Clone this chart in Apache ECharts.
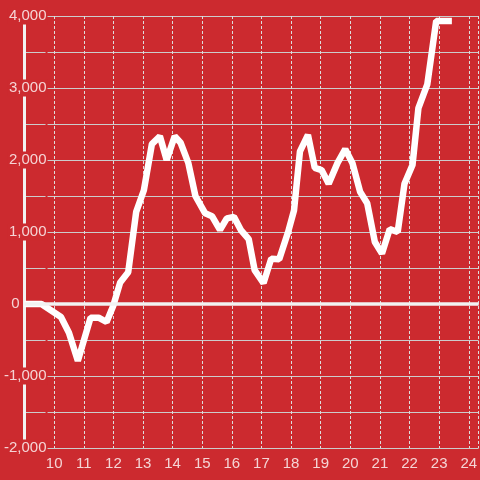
<!DOCTYPE html>
<html>
<head>
<meta charset="utf-8">
<script src="https://cdn.jsdelivr.net/npm/echarts@6/dist/echarts.min.js"></script>
<style>
  html, body { margin: 0; padding: 0; background: #cc2a2f; }
  #chart { width: 480px; height: 480px; }
</style>
</head>
<body>
<div id="chart"></div>
<script>
// x positions (hours) and values
const xValues = [9.0, 9.57, 10.23, 10.5, 10.8, 11.23, 11.5, 11.77, 12.0, 12.23, 12.5, 12.77, 13.03, 13.3, 13.57, 13.8, 14.07, 14.27, 14.53, 14.77,
  15.1, 15.33, 15.6, 15.83, 16.07, 16.3, 16.57, 16.77, 17.07, 17.33, 17.6, 17.9, 18.1, 18.3, 18.57, 18.8, 19.03, 19.27, 19.57, 19.83,
  20.07, 20.33, 20.57, 20.83, 21.07, 21.33, 21.6, 21.83, 22.1, 22.3, 22.6, 22.9, 23.43];
const yValues = [0, 0, -180, -400, -790, -190, -190, -250, -20, 300, 440, 1280, 1580, 2220, 2330, 2000, 2330, 2240, 1960, 1500,
  1260, 1220, 1030, 1190, 1210, 1030, 900, 470, 290, 630, 620, 1000, 1300, 2120, 2350, 1890, 1860, 1670, 1960, 2150,
  1960, 1560, 1400, 860, 700, 1040, 1000, 1670, 1930, 2720, 3050, 3930, 3930];
const yMin = -2000;
const yMax = 4000;
const xMin = 9;
const xMax = 24.333;

const chart = echarts.init(document.getElementById('chart'), null, { renderer: 'canvas' });

const labelColor = 'rgba(255,255,255,0.8)';
const font = '"Liberation Sans", Arial, sans-serif';

const option = {
  backgroundColor: '#cc2a2f',
  animation: false,
  grid: {
    left: 20,
    right: 0,
    top: 16,
    bottom: 32,
  },
  xAxis: {
    type: 'value',
    min: xMin,
    max: xMax,
    interval: 1,
    axisLine: { show: false },
    axisTick: { show: false },
    axisLabel: {
      color: labelColor,
      fontSize: 15,
      fontFamily: font,
      margin: 8,
      showMinLabel: false,
      showMaxLabel: false,
      formatter: v => (Number.isInteger(v) ? String(v) : ''),
    },
    splitLine: {
      show: true,
      lineStyle: { color: '#dddddd', type: [3, 2], width: 1 },
    },
  },
  yAxis: {
    type: 'value',
    min: yMin,
    max: yMax,
    interval: 500,
    axisLine: {
      show: true,
      lineStyle: { color: '#f2f2f2', width: 3 },
    },
    axisTick: { show: false },
    axisLabel: {
      color: labelColor,
      fontSize: 15,
      fontFamily: font,
      margin: -23,
      backgroundColor: '#cc2a2f',
      padding: [1, 1],
      // zero is labelled by the zero line itself
      formatter: v => (v !== 0 && v % 1000 === 0 ? v.toLocaleString('en-US') : ''),
    },
    splitLine: {
      show: true,
      lineStyle: { color: '#cccccc', width: 1 },
    },
  },
  series: [
    {
      type: 'line',
      data: xValues.map((x, i) => [x, yValues[i]]),
      symbol: 'none',
      smooth: false,
      lineStyle: { color: '#ffffff', width: 6.5, cap: 'butt' },
      markLine: {
        silent: true,
        symbol: 'none',
        label: {
          show: true,
          position: 'start',
          distance: 5,
          formatter: '0',
          color: labelColor,
          fontSize: 15,
          fontFamily: font,
        },
        lineStyle: { color: '#f2f2f2', width: 3.5, type: 'solid' },
        data: [{ yAxis: 0 }],
      },
    },
  ],
};

chart.setOption(option);
</script>
</body>
</html>
